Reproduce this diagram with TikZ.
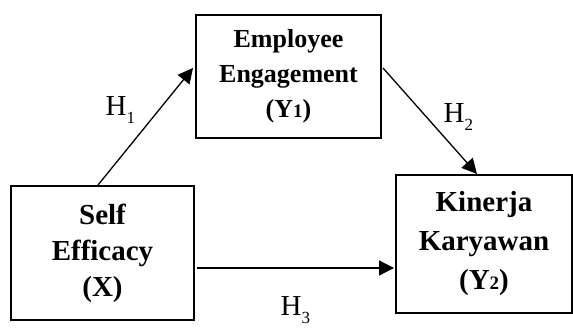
\documentclass[tikz,border=0pt]{standalone}
\usepackage{fontspec}
\setmainfont{Liberation Serif}
\usetikzlibrary{arrows.meta}
\newcommand\subdig[1]{{\fontsize{19}{19}\selectfont #1}}
\newcommand\hyp[1]{H\raisebox{-8pt}{\fontsize{17}{17}\selectfont #1}}

\begin{document}
\begin{tikzpicture}[x=1pt,y=-1pt,line width=1.3pt]
\tikzset{varbox/.style={draw,line width=2pt,inner sep=0pt,align=center,
font=\bfseries\fontsize{29}{36}\selectfont},
midbox/.style={varbox,font=\bfseries\fontsize{26}{35}\selectfont},
hlabel/.style={inner sep=0pt,anchor=base west,font=\fontsize{29}{29}\selectfont},
path/.style={-{Triangle[length=15pt,width=15pt]}},
}
\useasboundingbox (0,0) rectangle (573,327);
\node[midbox, minimum width=185pt, minimum height=123pt] (emp) at (288.5,76)
{Employee\\Engagement\\(Y\subdig{1})};
\node[varbox, minimum width=183pt, minimum height=134pt] (self) at (102.5,253)
{Self\\Efficacy\\(X)};
\node[varbox, minimum width=176pt, minimum height=138pt,
font=\bfseries\fontsize{29}{39}\selectfont] (kin) at (484,244)
{Kinerja\\Karyawan\\(Y\subdig{2})};

\draw[path] ([xshift=-4.5pt]self.north) -- ([yshift=8pt,xshift=-2pt]emp.west);
\draw[path] ([yshift=8pt,xshift=1pt]emp.east) -- ([xshift=-7pt]kin.north);
\draw[path] ([yshift=-15pt,xshift=2pt]self.east) -- ([yshift=-24pt,xshift=-1pt]kin.west);

\node[hlabel] (h1) at (105,115) {\hyp{1}};
\node[hlabel] (h2) at (443,122) {\hyp{2}};
\node[hlabel] (h3) at (280,315) {\hyp{3}};
\end{tikzpicture}
\end{document}
